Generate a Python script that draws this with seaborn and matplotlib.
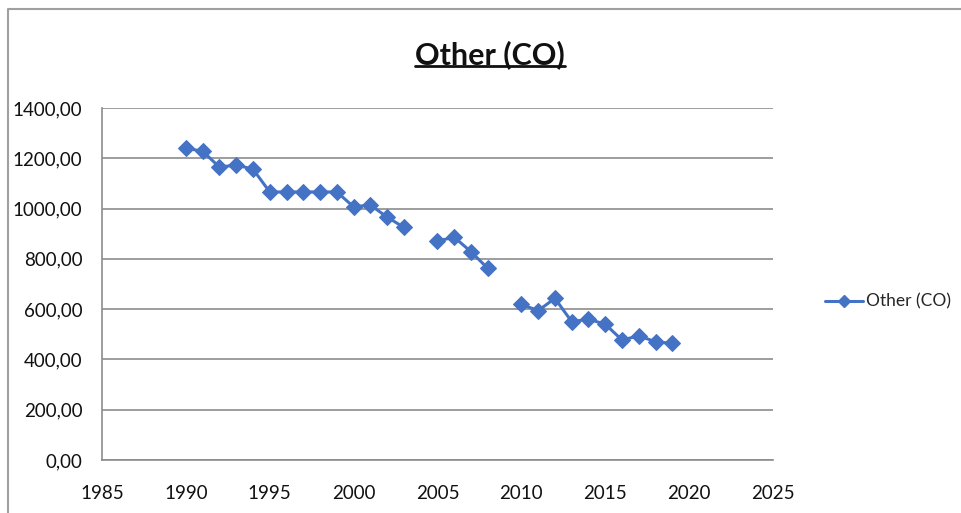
import numpy as np
import pandas as pd
import matplotlib
matplotlib.use("Agg")
import matplotlib.pyplot as plt
from matplotlib.lines import Line2D
import seaborn as sns

# Annual CO emissions, "Other" sector (no figures for 2004 and 2009)
years = [1990, 1991, 1992, 1993, 1994, 1995, 1996, 1997, 1998, 1999,
         2000, 2001, 2002, 2003, 2005, 2006, 2007, 2008,
         2010, 2011, 2012, 2013, 2014, 2015, 2016, 2017, 2018, 2019]
values = [1240, 1228, 1165, 1173, 1157, 1066, 1066, 1066, 1066, 1066,
          1007, 1014, 966, 925, 871, 886, 828, 762,
          619, 594, 643, 550, 560, 540, 477, 494, 470, 464]
series_name = "Other (CO)"
x_ticks = [1985, 1990, 1995, 2000, 2005, 2010, 2015, 2020, 2025]
y_ticks = [0, 200, 400, 600, 800, 1000, 1200, 1400]

df = pd.DataFrame({"year": years, "value": values})
# consecutive runs of years form separate line segments
df["segment"] = (df["year"].diff().fillna(1) > 1).cumsum()

sns.set_style("white")
plt.rcParams["font.family"] = ["Lato", "DejaVu Sans"]

blue = "#4472C4"
grey = "#8c8c8c"

fig = plt.figure(figsize=(9.61, 5.13), dpi=100)
ax = fig.add_axes([0.1061, 0.1033, 0.6983, 0.6862])

sns.lineplot(data=df, x="year", y="value", units="segment", estimator=None,
             color=blue, linewidth=2.2, marker="D", markersize=8,
             markeredgecolor=blue, ax=ax, legend=False)

ax.set_xlim(1985, 2025)
ax.set_ylim(0, 1400)
ax.set_xticks(x_ticks)
ax.set_yticks(y_ticks)
ax.set_yticklabels([f"{v:.2f}".replace(".", ",") for v in y_ticks])
ax.set_xlabel("")
ax.set_ylabel("")

ax.yaxis.grid(True, color=grey, linewidth=1.2)
ax.xaxis.grid(False)
for s in ["top", "right"]:
    ax.spines[s].set_visible(False)
for s in ["left", "bottom"]:
    ax.spines[s].set_color(grey)
    ax.spines[s].set_linewidth(1.2)
ax.tick_params(axis="y", direction="out", length=5, width=1.2, color=grey,
               labelsize=13.5, pad=9, labelcolor="#111111")
ax.tick_params(axis="x", direction="out", length=7, width=1.2, color=grey,
               labelsize=13.5, pad=11, labelcolor="#111111")
ax.set_axisbelow(True)

# legend
handle = Line2D([0], [0], color=blue, linewidth=2.2, marker="D",
                markersize=6, markeredgecolor=blue)
fig.legend([handle], [series_name], loc="center left",
           bbox_to_anchor=(0.842, 0.412), frameon=False, fontsize=12.5,
           handlelength=2.2, handletextpad=0.2)

# title with underline
title = fig.text(0.51, 0.893, series_name, ha="center", va="center",
                 fontsize=22, fontweight="bold", color="#111111")
fig.canvas.draw()
bb = title.get_window_extent().transformed(fig.transFigure.inverted())
fig.add_artist(Line2D([bb.x0, bb.x1], [bb.y0 + 0.006, bb.y0 + 0.006],
                      transform=fig.transFigure, color="#111111", linewidth=2))

# chart area border
fig.add_artist(Line2D([0.0085, 0.0085, 1.0], [0.0, 0.982, 0.982],
                      transform=fig.transFigure, color="#a0a0a0", linewidth=1.5))

fig.savefig("out.png", dpi=100)
